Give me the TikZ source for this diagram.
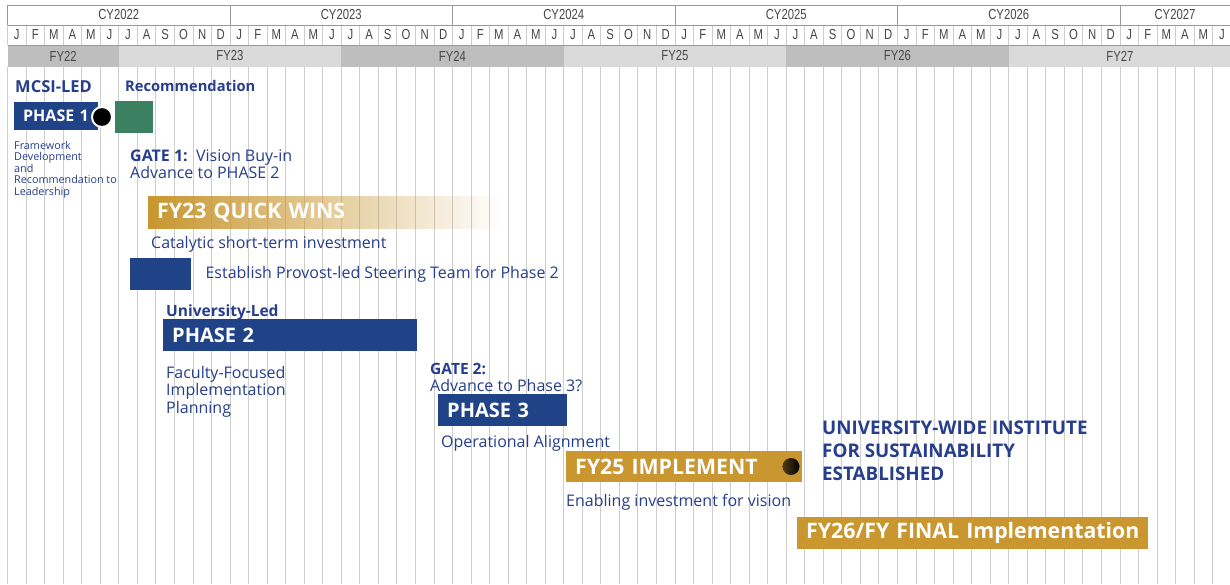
\documentclass[tikz,border=0pt]{standalone}
\usepackage{fontspec}
\setmainfont{Open Sans}
\newfontfamily\narrowfont[FakeStretch=0.78]{Liberation Sans}
\usetikzlibrary{positioning,fadings}
\definecolor{navy}{RGB}{31,67,134}
\definecolor{labelblue}{RGB}{38,62,140}
\definecolor{gold}{RGB}{201,150,47}
\definecolor{recgreen}{RGB}{59,128,97}
\definecolor{fydark}{RGB}{190,190,190}
\definecolor{fylight}{RGB}{218,218,218}
\definecolor{gridline}{RGB}{205,205,205}
\newcommand{\fsz}[2]{\fontsize{#1}{#2}\selectfont}
\tikzfading[name=quickfade,left color=transparent!0,middle color=transparent!0,right color=transparent!100]

\begin{document}
\begin{tikzpicture}[x=1pt,y=-1pt,
  hdr/.style={inner sep=0pt,text=black!72,font=\narrowfont\fsz{14.5}{16}},
  lbl/.style={anchor=base west,inner sep=0pt,text=labelblue,font=\fsz{16}{19}},
  lblb/.style={lbl,font=\bfseries\fsz{15.5}{18}},
  bar/.style={anchor=north west,inner xsep=9pt,inner ysep=0pt,text=white,align=left,font=\bfseries\fsz{20}{24}},
  goldbar/.style={bar,font=\bfseries\fsz{21.3}{25}},
  gridln/.style={gridline,line width=0.8pt}]
\useasboundingbox (0,0) rectangle (1230,584);
\fill[white] (0,0) rectangle (1230,584);
% fiscal years
\foreach \f/\a/\b/\c in {22/0/6/fydark,23/6/18/fylight,24/18/30/fydark,25/30/42/fylight,26/42/54/fydark,27/54/66/fylight}{
  \fill[\c] (7.5+\a*18.54,45) rectangle (7.5+\b*18.54,67);
  \node[hdr] (fy\f) at (7.5+\a*9.27+\b*9.27,56) {FY\f};
}
% month grid
\foreach \i in {0,...,66}
  \draw[gridln] (7.5+\i*18.54,25) -- (7.5+\i*18.54,45) (7.5+\i*18.54,67) -- (7.5+\i*18.54,584);
\draw[black!40,line width=0.8pt] (7.5,5) -- (1230,5) (7.5,25) -- (1230,25) (7.5,45) -- (1230,45);
% calendar years
\foreach \y in {0,...,5}{
  \pgfmathsetmacro\xa{7.5+\y*222.5}
  \pgfmathsetmacro\xb{min(\xa+222.5,1230)}
  \pgfmathtruncatemacro\yr{2022+\y}
  \draw[black!40,line width=0.8pt] (\xa,5) -- (\xa,25);
  \node[hdr] (cy\yr) at ({(\xa+\xb)/2},15) {CY\yr};
}
% months
\foreach \y in {0,...,5}
  \foreach \m [count=\k from 0] in {J,F,M,A,M,J,J,A,S,O,N,D}{
    \pgfmathtruncatemacro\i{12*\y+\k}
    \ifnum\i<66
      \node[hdr] (m\i) at (16.77+\i*18.54,35) {\m};
    \fi
  }

% phase 1
\node[lblb,font=\bfseries\fsz{16.5}{19}] (mcsi) at (15,92) {MCSI-LED};
\node[lblb,font=\bfseries\fsz{14.7}{18}] (recom) at (125,91) {Recommendation};
\node[bar,fill=navy,minimum height=28pt,text width=66pt,font=\bfseries\fsz{16}{19}] (ph1) at (14,102) {PHASE 1};
\node[circle,fill=black,draw=white,line width=2pt,minimum size=20pt,inner sep=0pt] (gate1) at (102,117) {};
\node[fill=recgreen,minimum width=38pt,minimum height=32pt,anchor=north west,inner sep=0pt] (recbox) at (115,101) {};
\node[anchor=north west,inner sep=0pt,text=labelblue,align=left,font=\fsz{10.8}{11.5}] (frame) at (14,141) {Framework\\Development\\and\\Recommendation to\\Leadership};
\node[lbl] (g1txt) at (130,161) {\textbf{GATE 1:}\ \ Vision Buy-in};
\node[lbl] (g1adv) at (130,178) {Advance to PHASE 2};

% quick wins
\fill[gold,path fading=quickfade] (148,196) rectangle (500,229);
\node[goldbar,text width=190pt,minimum height=33pt] (quick) at (148,196) {FY23 QUICK WINS};
\node[lbl] (catal) at (151,248) {Catalytic short-term investment};
\node[fill=navy,minimum width=61pt,minimum height=32pt,anchor=north west,inner sep=0pt] (steer) at (130,258) {};
\node[lbl,anchor=west,right=14pt of steer] (steertxt) {Establish Provost-led Steering Team for Phase 2};

% phase 2
\node[lblb] (uled) at (166,316) {University-Led};
\node[bar,fill=navy,minimum height=32pt,text width=236pt] (ph2) at (163,319) {PHASE 2};
\node[lbl,anchor=north west,align=left,font=\fsz{16}{17.5}] (ffip) at (166,366) {Faculty-Focused\\Implementation\\Planning};

% phase 3
\node[lblb] (gate2) at (430,374) {GATE 2:};
\node[lbl] (g2adv) at (430,391) {Advance to Phase 3?};
\node[bar,fill=navy,minimum height=32pt,text width=111pt] (ph3) at (438,394) {PHASE 3};
\node[lbl] (opal) at (441,447) {Operational Alignment};

% implementation
\node[goldbar,fill=gold,minimum height=31pt,text width=218pt] (fy25) at (566,451) {FY25 IMPLEMENT};
\node[circle,inner sep=0pt,minimum size=17pt,left color=gold!40!black,right color=black] (gate3) at (791,466.5) {};
\node[lbl] (enab) at (566,506) {Enabling investment for vision};
\node[lblb,anchor=north west,align=left,font=\bfseries\fsz{18.8}{23}] (inst) at (822,421) {UNIVERSITY-WIDE INSTITUTE\\FOR SUSTAINABILITY\\ESTABLISHED};
\node[goldbar,fill=gold,minimum height=32pt,text width=333pt] (fy26) at (797,517) {\mbox{FY26/FY FINAL Implementation}};
\end{tikzpicture}
\end{document}
